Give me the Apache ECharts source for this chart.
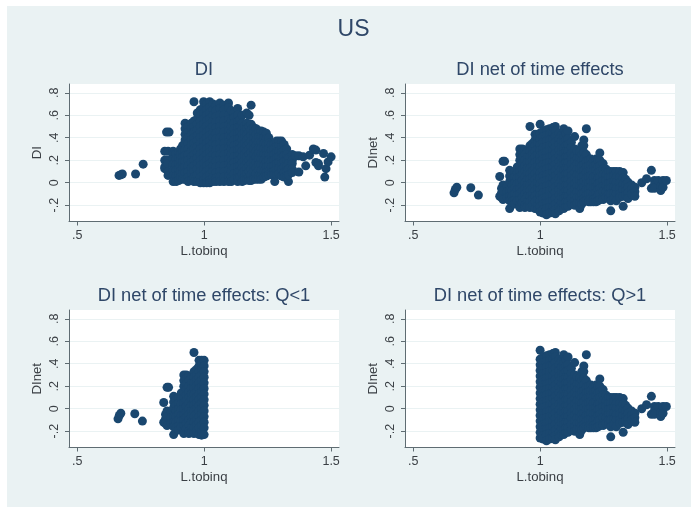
<!DOCTYPE html>
<html><head><meta charset="utf-8">
<style>html,body{margin:0;padding:0;background:#fff}#c{width:692px;height:508px;filter:blur(.5px)}</style>
<script src="https://cdn.jsdelivr.net/npm/echarts@6/dist/echarts.min.js"></script>
</head><body><div id="c"></div>
<script>
const xTicks=[.5,1,1.5];
const yTicks=[-.2,0,.2,.4,.6,.8];
const panelTitles=['DI','DI net of time effects','DI net of time effects: Q<1','DI net of time effects: Q>1'];
const yNames=['DI','DInet','DInet','DInet'];
// Each row: x, then the y values read at that x
const diColumns=[
[.665,[.065]],[.672,[.07]],[.678,[.077]],[.73,[.077]],[.76,[.165]],
[.852,[.45]],[.862,[.45]],
[.845,[.28,.2,.14,.125]],
[.858,[.28,.2,.17,.1,.065]],
[.878,[.28,.25,.21,.16,.11,.06,.01]],
[.89,[.26,.21,.16,.11,.06,.01]],
[.9,[.27,.22,.17,.12,.07,.02]],
[.907,[.3,.25,.2,.15,.1,.05]],
[.915,[.33,.28,.23,.18,.13,.08,.03]],
[.925,[.53,.48,.43,.38,.34,.29,.24,.19,.14,.09,.03]],
[.937,[.5,.45,.4,.35,.3,.25,.2,.15,.1,.05,.01]],
[.95,[.53,.48,.43,.38,.33,.28,.23,.18,.13,.08,.02]],
[.96,[.72,.55,.5,.45,.4,.35,.3,.25,.2,.15,.1,.05,.01]],
[.973,[.62,.57,.52,.47,.42,.37,.32,.27,.22,.17,.12,.07,.01]],
[.985,[.65,.6,.55,.5,.45,.4,.35,.3,.25,.2,.15,.1,.05,0]],
[.998,[.72,.67,.62,.57,.52,.47,.42,.37,.32,.27,.22,.17,.12,.07,.02,0]],
[1.01,[.7,.65,.6,.55,.5,.45,.4,.35,.3,.25,.2,.15,.1,.05,0]],
[1.022,[.72,.67,.62,.57,.52,.47,.42,.37,.32,.27,.22,.17,.12,.07,.02,0]],
[1.035,[.7,.65,.6,.55,.5,.45,.4,.35,.3,.25,.2,.15,.1,.05,.01]],
[1.047,[.69,.64,.59,.54,.49,.44,.39,.34,.29,.24,.19,.14,.09,.04,.01]],
[1.062,[.71,.66,.6,.55,.5,.45,.4,.35,.3,.25,.2,.15,.1,.05,.01]],
[1.078,[.69,.65,.6,.55,.5,.45,.4,.35,.3,.25,.2,.15,.1,.05,.01]],
[1.096,[.71,.67,.6,.56,.51,.46,.41,.36,.31,.26,.21,.16,.11,.06,.01]],
[1.107,[.64,.55,.5,.45,.4,.35,.3,.25,.2,.15,.1,.05,.01]],
[1.118,[.62,.58,.53,.48,.43,.38,.33,.28,.23,.18,.13,.08,.03]],
[1.132,[.66,.6,.54,.49,.44,.39,.34,.29,.24,.19,.14,.09,.04,.01]],
[1.141,[.56,.5,.45,.4,.35,.3,.25,.2,.15,.1,.05]],
[1.15,[.6,.53,.48,.43,.38,.33,.28,.23,.18,.13,.08,.03,.01]],
[1.159,[.5,.45,.4,.35,.3,.25,.2,.15,.1,.05,.02]],
[1.168,[.62,.53,.48,.43,.38,.33,.28,.23,.18,.13,.08,.03]],
[1.177,[.6,.5,.45,.4,.35,.3,.25,.2,.15,.1,.05,.02]],
[1.185,[.69,.52,.47,.42,.37,.32,.27,.22,.17,.12,.07,.02]],
[1.195,[.49,.45,.4,.35,.3,.25,.2,.15,.1,.05,.03]],
[1.205,[.48,.43,.38,.33,.28,.23,.18,.13,.08,.03]],
[1.215,[.46,.41,.36,.31,.26,.21,.16,.11,.06,.03]],
[1.225,[.46,.41,.36,.31,.26,.21,.16,.11,.06,.03]],
[1.235,[.45,.4,.35,.3,.25,.2,.15,.1,.05]],
[1.245,[.44,.39,.34,.29,.24,.19,.14,.09,.06]],
[1.255,[.4,.35,.3,.25,.2,.15,.1,.07]],
[1.265,[.34,.29,.24,.19,.14,.09,.07]],
[1.275,[.34,.3,.25,.2,.15,.1,.07]],
[1.278,[.01]],
[1.285,[.37,.32,.27,.22,.17,.12,.07]],
[1.295,[.37,.33,.28,.23,.18,.13,.08]],
[1.305,[.37,.32,.27,.22,.17,.12,.06]],
[1.315,[.34,.29,.24,.19,.14,.09,.05]],
[1.325,[.3,.25,.2,.15,.1,.06]],
[1.332,[.01,.22,.17,.12,.07]],
[1.347,[.25,.2,.17,.12,.09]],
[1.36,[.24]],[1.373,[.24,.095]],[1.39,[.23]],[1.4,[.15]],[1.415,[.245]],
[1.43,[.3]],[1.44,[.29,.18]],[1.45,[.17,.15]],[1.47,[.26]],[1.475,[.05]],
[1.48,[.125]],[1.488,[.185]],[1.5,[.23]]
];
const dinetLowColumns=[
[.661,[-.09]],[.666,[-.06]],[.672,[-.04]],[.727,[-.045]],[.757,[-.11]],
[.841,[.055,-.12]],[.848,[-.05,-.09,-.13]],[.854,[.19,-.02,-.07,-.15]],[.86,[.19]],
[.87,[-.03,-.08,-.13]],
[.88,[.11,.06,.01,-.07,-.12,-.16,-.23]],
[.89,[.08,.03,-.02,-.07,-.12,-.17]],
[.9,[.1,.05,0,-.05,-.1,-.15,-.19]],
[.91,[.14,.09,.04,-.01,-.06,-.11,-.16]],
[.92,[.3,.25,.2,.15,.1,.05,0,-.05,-.1,-.15,-.2,-.22]],
[.93,[.3,.27,.22,.17,.12,.07,.02,-.03,-.08,-.13,-.18]],
[.94,[.29,.25,.2,.15,.1,.05,0,-.05,-.1,-.15,-.2,-.22]],
[.95,[.28,.23,.18,.13,.08,.03,-.02,-.07,-.12,-.17,-.21]],
[.96,[.5,.33,.28,.23,.18,.13,.08,.03,-.02,-.07,-.12,-.17,-.22]],
[.97,[.35,.3,.25,.2,.15,.1,.05,0,-.05,-.1,-.15,-.2]],
[.98,[.43,.38,.33,.28,.23,.18,.13,.08,.03,-.02,-.07,-.12,-.17,-.23]],
[.99,[.43,.4,.35,.3,.25,.2,.15,.1,.05,0,-.05,-.1,-.15,-.2,-.235]],
[1,[.43,.38,.33,.28,.23,.18,.13,.08,.03,-.02,-.07,-.12,-.17,-.23]]
];
const dinetHighColumns=[
[1,[.52,.44,.39,.34,.29,.24,.19,.14,.09,.04,-.01,-.06,-.11,-.16,-.21,-.26]],
[1.012,[.46,.41,.36,.31,.26,.21,.16,.11,.06,.01,-.04,-.09,-.14,-.19,-.24,-.27]],
[1.025,[.47,.42,.37,.32,.27,.22,.17,.12,.07,.02,-.03,-.08,-.13,-.18,-.23,-.285]],
[1.037,[.48,.43,.38,.33,.28,.23,.18,.13,.08,.03,-.02,-.07,-.12,-.17,-.22,-.27]],
[1.05,[.49,.44,.39,.34,.29,.24,.19,.14,.09,.04,-.01,-.06,-.11,-.16,-.21,-.26]],
[1.06,[.5,.46,.41,.36,.31,.26,.21,.16,.11,.06,.01,-.04,-.09,-.14,-.19,-.24,-.277]],
[1.075,[.44,.39,.34,.29,.24,.19,.14,.09,.04,-.01,-.06,-.11,-.16,-.21,-.25]],
[1.084,[.42,.37,.32,.27,.22,.17,.12,.07,.02,-.03,-.08,-.13,-.18,-.23]],
[1.093,[.48,.41,.36,.31,.26,.21,.16,.11,.06,.01,-.04,-.09,-.14,-.19,-.23]],
[1.102,[.44,.38,.33,.28,.23,.18,.13,.08,.03,-.02,-.07,-.12,-.17,-.21]],
[1.11,[.46,.39,.34,.28,.23,.18,.13,.08,.03,-.02,-.07,-.12,-.17,-.21]],
[1.123,[.36,.31,.26,.21,.16,.11,.06,.01,-.04,-.09,-.14,-.19]],
[1.136,[.41,.3,.24,.19,.14,.09,.04,-.01,-.06,-.11,-.16,-.2]],
[1.146,[.28,.22,.17,.12,.07,.02,-.03,-.08,-.13,-.18]],
[1.156,[.27,.22,.17,.12,.07,.02,-.03,-.08,-.13,-.18,-.23]],
[1.164,[.33,.25,.2,.15,.1,.05,0,-.05,-.1,-.15,-.19]],
[1.172,[.38,.33,.27,.21,.16,.11,.06,.01,-.04,-.09,-.14,-.17]],
[1.182,[.48,.25,.19,.14,.09,.04,-.01,-.06,-.11,-.16]],
[1.192,[.2,.15,.1,.05,0,-.05,-.1,-.15,-.17]],
[1.2,[.21,.16,.11,.06,.01,-.04,-.09,-.14,-.17]],
[1.21,[.2,.15,.1,.05,0,-.05,-.1,-.15,-.17]],
[1.22,[.21,.16,.11,.06,.01,-.04,-.09,-.14,-.17]],
[1.228,[.2,.14,.09,.04,-.01,-.06,-.11,-.16]],
[1.235,[.265,.2,.15,.1,.05,0,-.05,-.1,-.15]],
[1.248,[.17,.12,.07,.02,-.03,-.08,-.13,-.15]],
[1.26,[.12,.07,.02,-.03,-.08,-.13]],
[1.27,[.1,.05,0,-.05,-.1,-.14]],
[1.278,[.1,.05,0,-.05,-.1,-.16,-.25]],
[1.29,[.1,.06,.01,-.04,-.09,-.14]],
[1.3,[.1,.05,0,-.05,-.1,-.16]],
[1.313,[.1,.05,0,-.05,-.1,-.13]],
[1.327,[.09,.04,-.01,-.06,-.12,-.21]],
[1.337,[.03,-.02,-.07,-.11]],
[1.346,[.005,-.04,-.09,-.14]],
[1.36,[-.02,-.06,-.1]],
[1.373,[-.04,-.08,-.12]],
[1.4,[0]],[1.419,[.035]],[1.438,[.11,-.05]],[1.45,[.02,-.02,-.05]],
[1.465,[.02]],[1.475,[-.03,-.07]],[1.484,[.02,-.04]],[1.497,[.02]]
];
function toPoints(cols){const p=[];cols.forEach(c=>c[1].forEach(y=>p.push([c[0],y])));return p;}
const panelData=[toPoints(diColumns),toPoints(dinetLowColumns.concat(dinetHighColumns)),toPoints(dinetLowColumns),toPoints(dinetHighColumns)];
const fmt=v=>{if(v===0)return '0';let s=String(+(+v).toFixed(2));return s.replace(/^(-?)0\./,'$1.');};
const lefts=[69,405,69,405], tops=[84,84,310,310];
const ink='#3a3f44', titleInk='#2f4768', axisInk='#5f6c72';
const grids=[],xAxes=[],yAxes=[],series=[];
const titles=[{text:'US',left:353.5,top:18.5,padding:0,textAlign:'center',textStyle:{fontFamily:'Liberation Sans',fontSize:23,fontWeight:'normal',color:titleInk}}];
panelData.forEach((d,i)=>{
  grids.push({left:lefts[i],top:tops[i],width:270,height:137.5});
  titles.push({text:panelTitles[i],left:lefts[i]+135,top:tops[i]-23,padding:0,textAlign:'center',textStyle:{fontFamily:'Liberation Sans',fontSize:18.3,fontWeight:'normal',color:titleInk}});
  xAxes.push({type:'value',gridIndex:i,min:.468,max:1.531,name:'L.tobinq',nameLocation:'middle',nameGap:23.5,
    nameTextStyle:{fontFamily:'Liberation Sans',fontSize:13.2,color:ink},
    axisLine:{onZero:false,lineStyle:{color:axisInk,width:1}},
    axisTick:{show:true,length:4,lineStyle:{color:axisInk},customValues:xTicks},
    axisLabel:{fontFamily:'Liberation Sans',fontSize:12.5,color:ink,margin:8,customValues:xTicks,formatter:fmt,hideOverlap:false,showMinLabel:true,showMaxLabel:true},
    splitLine:{show:false}});
  yAxes.push({type:'value',gridIndex:i,min:-.345,max:.878,name:yNames[i],nameLocation:'middle',nameGap:25,nameRotate:90,
    nameTextStyle:{fontFamily:'Liberation Sans',fontSize:13.2,color:ink},
    axisLine:{show:true,onZero:false,lineStyle:{color:axisInk,width:1}},
    axisTick:{show:true,length:4,lineStyle:{color:axisInk},customValues:yTicks},
    axisLabel:{fontFamily:'Liberation Sans',fontSize:12.5,color:ink,margin:8,rotate:90,customValues:yTicks,formatter:fmt,hideOverlap:false},
    splitLine:{show:true,lineStyle:{color:'#eaf2f3',width:1}}});
  series.push({type:'scatter',xAxisIndex:i,yAxisIndex:i,data:d,symbol:'circle',symbolSize:9,silent:true,animation:false,itemStyle:{color:'#1a476f',opacity:1}});
});
const chart=echarts.init(document.getElementById('c'),null,{renderer:'canvas'});
chart.setOption({animation:false,backgroundColor:'#fff',title:titles,grid:grids,xAxis:xAxes,yAxis:yAxes,series:series,
  graphic:[
    {type:'rect',z:-10,zlevel:0,silent:true,shape:{x:7,y:6,width:684,height:501},style:{fill:'#eaf2f3'}},
    {type:'rect',z:-9,silent:true,shape:{x:69,y:84,width:270,height:137.5},style:{fill:'#fff'}},
    {type:'rect',z:-9,silent:true,shape:{x:405,y:84,width:270,height:137.5},style:{fill:'#fff'}},
    {type:'rect',z:-9,silent:true,shape:{x:69,y:310,width:270,height:137.5},style:{fill:'#fff'}},
    {type:'rect',z:-9,silent:true,shape:{x:405,y:310,width:270,height:137.5},style:{fill:'#fff'}}
  ]});
</script></body></html>
